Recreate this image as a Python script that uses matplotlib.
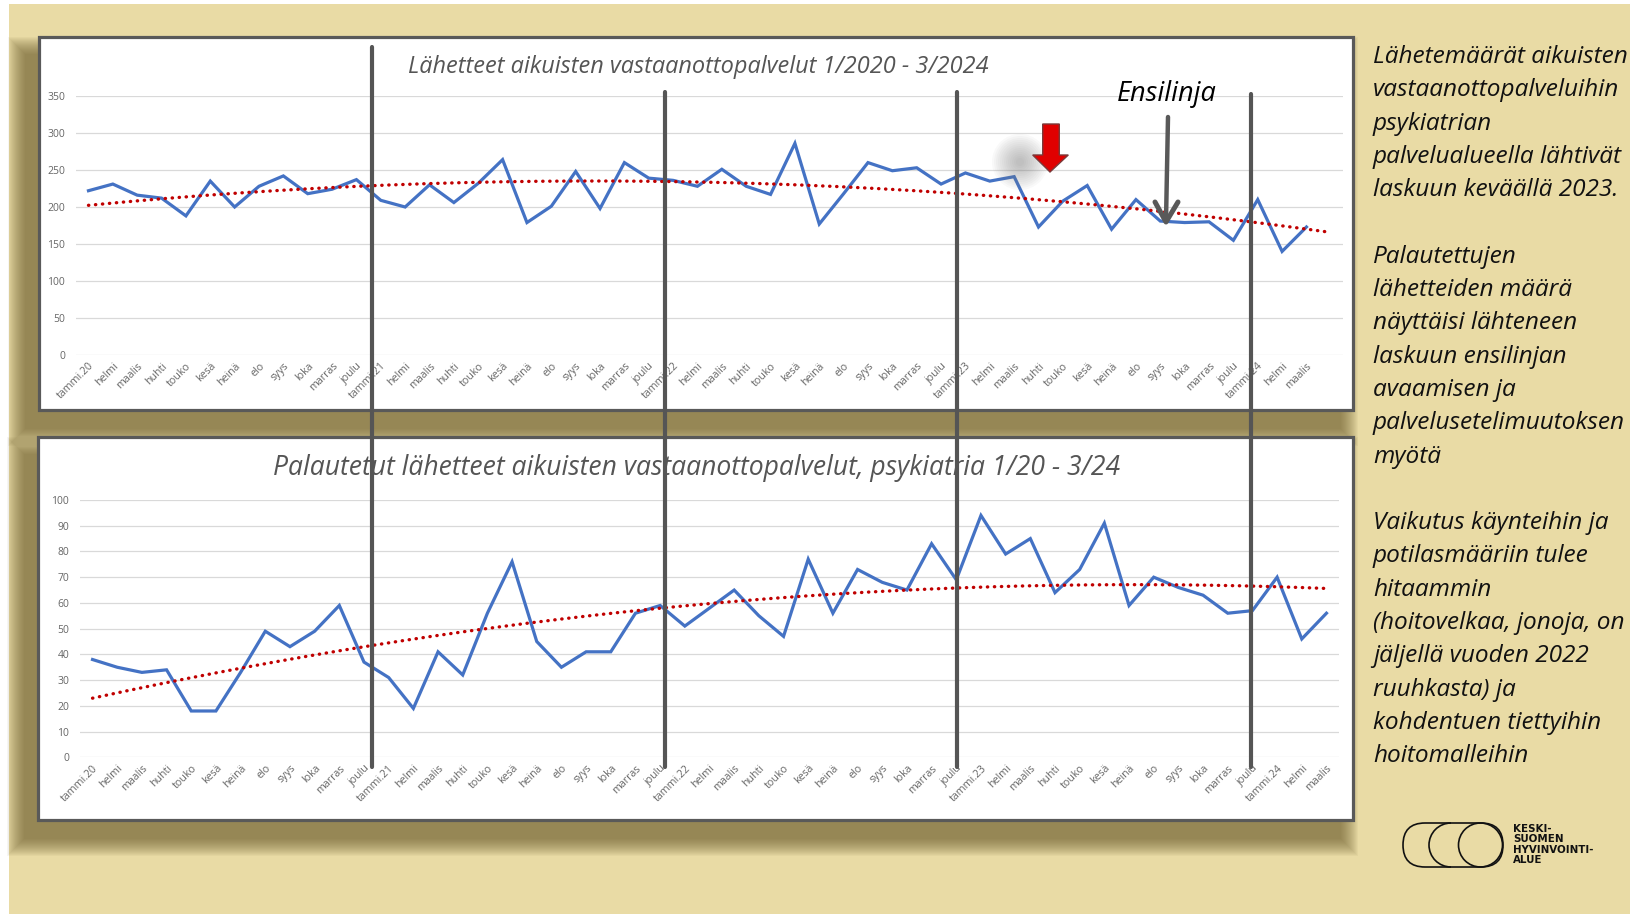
import numpy as np
import matplotlib.pyplot as plt
from matplotlib.patches import Rectangle, Polygon, Circle, Arc, FancyBboxPatch
from matplotlib.lines import Line2D
from matplotlib.transforms import Affine2D

plt.rcParams['font.family'] = ['Open Sans', 'DejaVu Sans']

# kuukaudet 1/2020 - 3/2024
kuukaudet = ["tammi", "helmi", "maalis", "huhti", "touko", "kesä",
             "heinä", "elo", "syys", "loka", "marras", "joulu"]
vuodet = ["20", "21", "22", "23", "24"]
kuukausia_2024 = 3

lahetteet = [222, 231, 216, 212, 188, 235, 200, 228, 242, 218, 224, 237,
             209, 200, 230, 206, 232, 264, 179, 201, 248, 198, 260, 239,
             236, 228, 251, 228, 217, 286, 177, 218, 260, 249, 253, 231,
             246, 235, 241, 173, 208, 229, 170, 210, 181, 179, 180, 155,
             210, 140, 173]

palautetut = [38, 35, 33, 34, 18, 18, 33, 49, 43, 49, 59, 37,
              31, 19, 41, 32, 56, 76, 45, 35, 41, 41, 56, 59,
              51, 58, 65, 55, 47, 77, 56, 73, 68, 65, 83, 69,
              94, 79, 85, 64, 73, 91, 59, 70, 66, 63, 56, 57,
              70, 46, 56]

otsikko_ylä = "Lähetteet aikuisten vastaanottopalvelut 1/2020 - 3/2024"
otsikko_ala = "Palautetut lähetteet aikuisten vastaanottopalvelut, psykiatria 1/20 - 3/24"

teksti_rivit = ["Lähetemäärät aikuisten", "vastaanottopalveluihin", "psykiatrian",
                "palvelualueella lähtivät", "laskuun keväällä 2023.", "",
                "Palautettujen", "lähetteiden määrä", "näyttäisi lähteneen",
                "laskuun ensilinjan", "avaamisen ja", "palvelusetelimuutoksen",
                "myötä", "",
                "Vaikutus käynteihin ja", "potilasmääriin tulee", "hitaammin",
                "(hoitovelkaa, jonoja, on", "jäljellä vuoden 2022", "ruuhkasta) ja",
                "kohdentuen tiettyihin", "hoitomalleihin"]

nimet = []
for v in vuodet:
    for i, k in enumerate(kuukaudet):
        nimet.append(f"{k}.{v}" if i == 0 else k)
nimet = nimet[:len(vuodet[:-1]) * 12 + kuukausia_2024]

W, H = 1631, 914
fig = plt.figure(figsize=(W / 100, H / 100), dpi=100)
fig.patch.set_facecolor('white')
px = Affine2D().scale(1 / W, -1 / H).translate(0, 1) + fig.transFigure

BEIGE = '#E9DBA5'
HARMAA = '#595959'
SININEN = '#4472C4'
PUNAINEN = '#C00000'

fig.patches.append(Rectangle((9, 4), W - 9, H - 4, transform=px,
                             facecolor=BEIGE, edgecolor='none', zorder=-10))

paneelit = [(39, 37, 1353, 410), (38, 437, 1353, 820)]
for x0, y0, x1, y1 in paneelit:
    # varjo
    for k in range(18):
        e = 18 - k
        fig.patches.append(Rectangle((x0 - 13 - e, y0 + 18 - e), (x1 - x0) + 2 * e, (y1 - y0) + 2 * e,
                                     transform=px, facecolor='#6b5a2a', edgecolor='none',
                                     alpha=0.05, zorder=-9))
    fig.patches.append(Rectangle((x0, y0), x1 - x0, y1 - y0, transform=px,
                                 facecolor='white', edgecolor=HARMAA, lw=2.3, zorder=-5))


def ax_px(x0, y0, x1, y1):
    return fig.add_axes([x0 / W, 1 - y1 / H, (x1 - x0) / W, (y1 - y0) / H])


def muotoile(ax, yticks):
    ax.set_facecolor('none')
    for s in ax.spines.values():
        s.set_visible(False)
    ax.set_yticks(yticks)
    ax.yaxis.grid(True, color='#D9D9D9', lw=0.9)
    ax.set_axisbelow(True)
    ax.set_xticks(range(len(nimet)))
    ax.set_xticklabels(nimet, rotation=45, ha='right', va='top', rotation_mode='anchor',
                       fontsize=7.7, color='#666666')
    ax.tick_params(axis='x', length=0, pad=4)
    ax.tick_params(axis='y', length=0, pad=8, labelsize=7.5, labelcolor='#666666')


x = np.arange(len(lahetteet))

# ylempi kaavio
ax1 = ax_px(76.3, 96, 1343, 355)
muotoile(ax1, range(0, 351, 50))
ax1.set_ylim(0, 350)
ax1.set_xlim(-0.5, 51.5)
ax1.plot(x, lahetteet, color=SININEN, lw=2.3, solid_joinstyle='miter')
c1 = np.polyfit(x, lahetteet, 2)
xt1 = np.linspace(0, len(lahetteet), 200)
ax1.plot(xt1, np.polyval(c1, xt1), color=PUNAINEN, lw=2.4, linestyle=(0, (0.1, 2.0)),
         dash_capstyle='round')

# alempi kaavio
ax2 = ax_px(80.2, 500, 1338.8, 757.3)
muotoile(ax2, range(0, 101, 10))
ax2.set_ylim(0, 100)
ax2.set_xlim(-0.5, 50.5)
ax2.plot(x, palautetut, color=SININEN, lw=2.3, solid_joinstyle='miter')
c2 = np.polyfit(x, palautetut, 2)
xt2 = np.linspace(0, len(palautetut) - 1, 200)
ax2.plot(xt2, np.polyval(c2, xt2), color=PUNAINEN, lw=2.4, linestyle=(0, (0.1, 2.0)),
         dash_capstyle='round')

fig.text(698, 67, otsikko_ylä, transform=px, ha='center', va='center', fontsize=16.9,
         style='italic', color='#555555', zorder=1)
fig.text(697, 468, otsikko_ala, transform=px, ha='center', va='center', fontsize=19.1,
         style='italic', color='#555555', zorder=1)

# pystyviivat
for xv, ya in [(372.5, 47), (665, 92), (957, 92), (1251, 94)]:
    fig.lines.append(Line2D([xv, xv], [ya, 767], transform=px, color='#555555', lw=3,
                            solid_capstyle='round', zorder=6))

# Ensilinja-nuoli
fig.text(1167, 94, "Ensilinja", transform=px, ha='center', va='center', fontsize=19.5,
         style='italic', color='black', zorder=6)
fig.lines.append(Line2D([1168, 1166], [117, 221], transform=px, color=HARMAA, lw=3.2,
                        solid_capstyle='round', zorder=6))
fig.lines.append(Line2D([1155, 1166, 1178], [202, 222, 202], transform=px, color=HARMAA, lw=3.6,
                        solid_capstyle='round', solid_joinstyle='round', zorder=6))

# punainen nuoli ja sen varjo
for r in range(28, 2, -2):
    fig.patches.append(Circle((1020, 162), r, transform=px, facecolor='#7a7a7a',
                              edgecolor='none', alpha=0.045, zorder=5))
fig.patches.append(Polygon([(1042.7, 124), (1059.3, 124), (1059.3, 155), (1068.3, 155),
                            (1050, 172), (1032.7, 155), (1042.7, 155)], closed=True,
                           transform=px, facecolor='#E00000', edgecolor='#7a3a3a', lw=1,
                           zorder=6))

# oikean reunan teksti
for i, rivi in enumerate(teksti_rivit):
    fig.text(1373, 57 + i * 33.3, rivi, transform=px, ha='left', va='center', fontsize=17.6,
             style='italic', color='#111111')

# logo
fig.patches.append(FancyBboxPatch((1403, 823), 100, 44, boxstyle="round,pad=0,rounding_size=22",
                                  transform=px, facecolor='none', edgecolor='#111111', lw=1.2))
fig.patches.append(Arc((1451, 845), 44, 44, theta1=90, theta2=270, transform=px,
                       edgecolor='#111111', lw=1.2))
fig.patches.append(Circle((1480.5, 845), 22, transform=px, facecolor='none',
                          edgecolor='#111111', lw=1.2))
fig.text(1513, 824, "KESKI-\nSUOMEN\nHYVINVOINTI-\nALUE", transform=px, ha='left', va='top',
         fontsize=7.4, fontweight='bold', color='#111111', linespacing=1.05,
         family=['DejaVu Sans'])

fig.savefig("out.png", dpi=100)
